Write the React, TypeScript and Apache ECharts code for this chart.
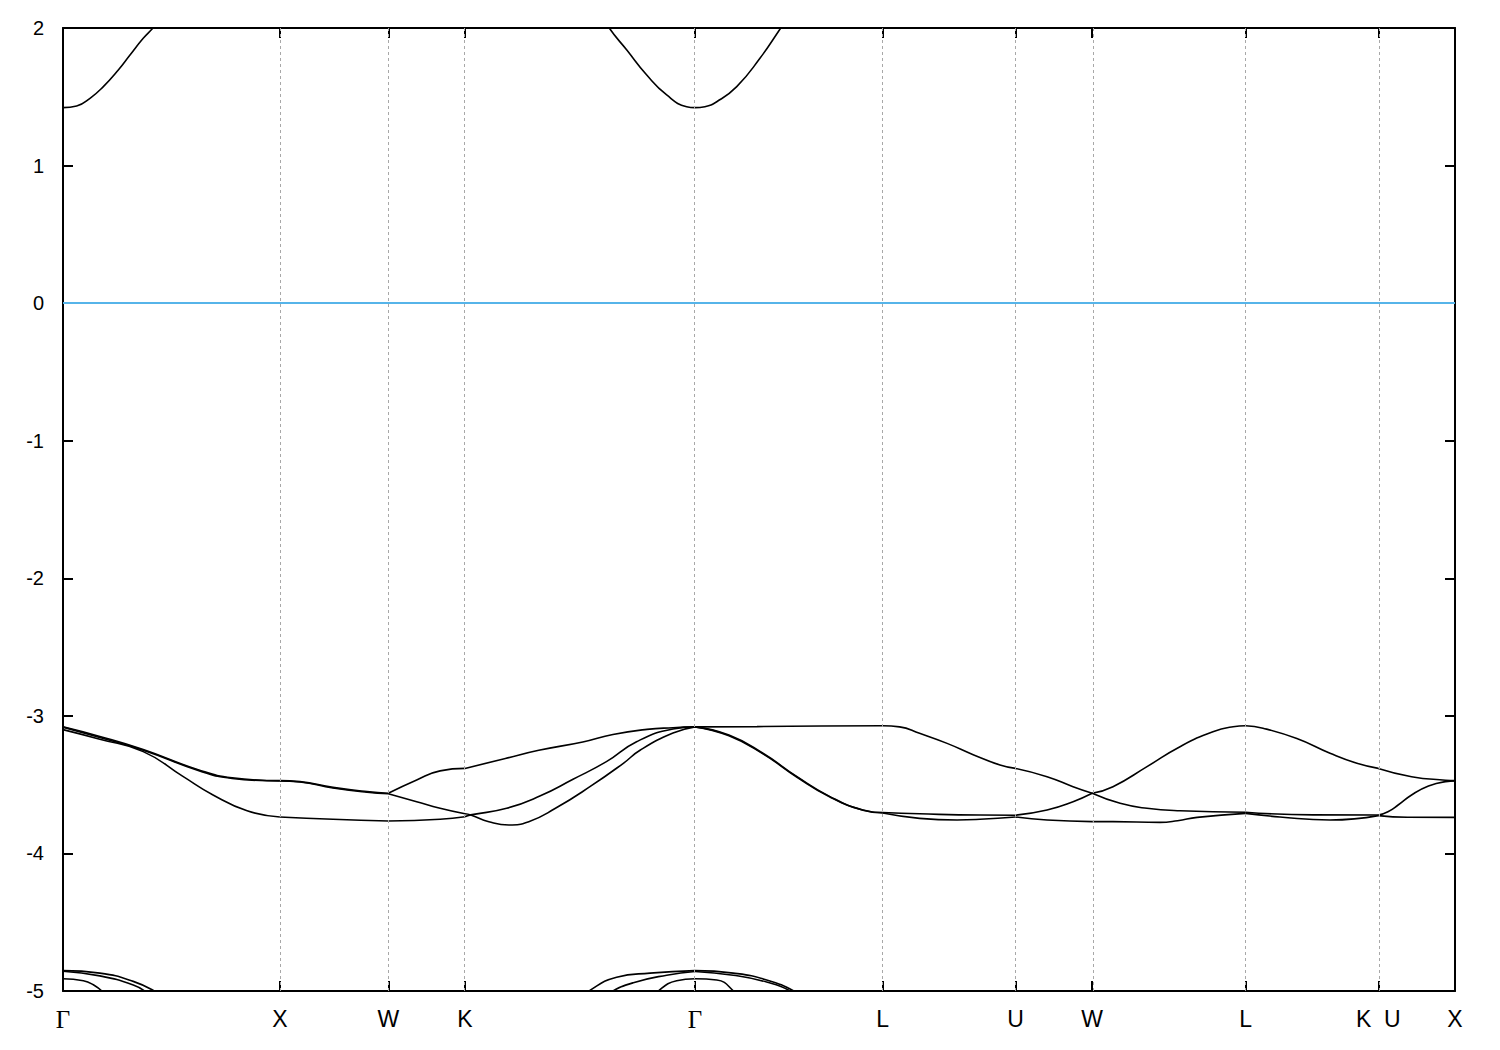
import React, { useEffect, useRef } from "react";
import * as echarts from "echarts";

// High-symmetry points along the k-path (units of 2π/a)
const kTicks = [0, 1, 1.5, 1.8536, 2.9142, 3.7802, 4.3926, 4.7462, 5.4533, 6.0657, 6.4193];
const kLabels = ["Γ", "X", "W", "K", "Γ", "L", "U", "W", "L", "K\u00a0\u00a0U", "X"];

// Energy axis ticks (eV)
const yTicks = [-5, -4, -3, -2, -1, 0, 1, 2];
const fermiLevel = 0;

// Valence bands near -3 eV
const bandTop = [
  [0, -3.08], [0.17, -3.15], [0.37, -3.245], [0.63, -3.395], [0.78, -3.45], [1, -3.471],
  [1.093, -3.478], [1.245, -3.52], [1.402, -3.551], [1.5, -3.563],
  [1.631, -3.466], [1.739, -3.4], [1.8536, -3.382],
  [2.04, -3.31], [2.194, -3.25], [2.397, -3.19], [2.536, -3.135], [2.693, -3.098], [2.813, -3.086], [2.9142, -3.08],
  [3.2, -3.078], [3.5, -3.074], [3.7802, -3.072],
  [3.858, -3.08], [3.95, -3.127], [4.077, -3.2], [4.2, -3.284], [4.321, -3.357], [4.3926, -3.382],
  [4.538, -3.442], [4.658, -3.515], [4.7462, -3.563],
  [4.842, -3.515], [4.999, -3.369], [5.151, -3.224], [5.303, -3.115], [5.396, -3.079], [5.4533, -3.072],
  [5.534, -3.09], [5.69, -3.165], [5.843, -3.272], [5.967, -3.345], [6.0657, -3.382],
  [6.219, -3.442], [6.376, -3.468], [6.4193, -3.471],
];

const bandMid = [
  [0, -3.082], [0.17, -3.158], [0.37, -3.25], [0.63, -3.4], [0.78, -3.455], [1, -3.474],
  [1.093, -3.481], [1.245, -3.524], [1.402, -3.555], [1.5, -3.566],
  [1.631, -3.624], [1.739, -3.672], [1.8536, -3.712],
  [1.88, -3.72], [1.964, -3.769], [2.056, -3.793], [2.148, -3.769], [2.271, -3.672], [2.43, -3.515], [2.584, -3.345], [2.661, -3.25], [2.813, -3.125], [2.9142, -3.08],
  [3.071, -3.14], [3.228, -3.272], [3.385, -3.442], [3.537, -3.587], [3.689, -3.684], [3.7802, -3.703],
  [3.95, -3.712], [4.229, -3.721], [4.3926, -3.722],
  [4.538, -3.684], [4.658, -3.624], [4.7462, -3.563],
  [4.875, -3.636], [4.999, -3.672], [5.151, -3.69], [5.4533, -3.701],
  [5.765, -3.72], [6.0657, -3.721],
  [6.11, -3.697], [6.157, -3.648], [6.219, -3.575], [6.297, -3.51], [6.376, -3.478], [6.4193, -3.473],
];

const bandLow = [
  [0, -3.1], [0.17, -3.17], [0.37, -3.26], [0.553, -3.44], [0.692, -3.575], [0.849, -3.69], [1, -3.735],
  [1.245, -3.752], [1.5, -3.764],
  [1.739, -3.752], [1.8536, -3.733],
  [1.88, -3.72], [2.046, -3.672], [2.199, -3.583], [2.352, -3.461], [2.506, -3.333], [2.645, -3.188], [2.813, -3.095], [2.9142, -3.08],
  [3.071, -3.145], [3.228, -3.276], [3.385, -3.446], [3.537, -3.59], [3.689, -3.686], [3.7802, -3.706],
  [3.95, -3.745], [4.123, -3.757], [4.229, -3.752], [4.3926, -3.735],
  [4.538, -3.757], [4.7462, -3.769],
  [4.842, -3.769], [5.059, -3.774], [5.14, -3.762], [5.23, -3.738], [5.4533, -3.709],
  [5.612, -3.735], [5.843, -3.757], [6.0657, -3.725],
  [6.2, -3.737], [6.4193, -3.738],
];

// Conduction band pieces (visible part below 2 eV)
const condGammaStart = [
  [0, 1.421], [0.063, 1.433], [0.1245, 1.489], [0.186, 1.574], [0.255, 1.695], [0.309, 1.804], [0.37, 1.925], [0.414, 1.998], [0.46, 2.08],
];
const condGammaMid = [
  [2.49, 2.09], [2.519, 2.0], [2.6, 1.84], [2.692, 1.658], [2.784, 1.513], [2.876, 1.428], [2.9142, 1.421],
  [2.96, 1.428], [3.015, 1.464], [3.107, 1.574], [3.214, 1.78], [3.31, 2.0], [3.34, 2.07],
];

// Deeper bands peeking in near -5 eV
const deep1Start = [[0, -4.852], [0.17, -4.87], [0.324, -4.93], [0.432, -5.01], [0.47, -5.06]];
const deep2Start = [[0, -4.856], [0.17, -4.89], [0.324, -4.956], [0.386, -5.01], [0.42, -5.06]];
const deep3Start = [[0, -4.911], [0.094, -4.925], [0.14, -4.955], [0.186, -5.01], [0.21, -5.06]];
const deep1Mid = [[2.38, -5.06], [2.415, -5.01], [2.553, -4.9], [2.707, -4.87], [2.9142, -4.852], [3.091, -4.87], [3.245, -4.92], [3.384, -5.01], [3.42, -5.06]];
const deep2Mid = [[2.49, -5.06], [2.523, -5.01], [2.63, -4.94], [2.784, -4.885], [2.9142, -4.858], [3.091, -4.885], [3.245, -4.935], [3.368, -5.01], [3.4, -5.06]];
const deep3Mid = [[2.72, -5.06], [2.738, -5.01], [2.83, -4.925], [2.9142, -4.911], [3.015, -4.92], [3.099, -5.01], [3.12, -5.06]];

const allBands = [
  bandTop, bandMid, bandLow,
  condGammaStart, condGammaMid,
  deep1Start, deep2Start, deep3Start, deep1Mid, deep2Mid, deep3Mid,
];

function segmentSeries(points: number[][]) {
  const out: any[] = [];
  for (let i = 0; i < kTicks.length - 1; i++) {
    const a = kTicks[i] - 1e-6;
    const b = kTicks[i + 1] + 1e-6;
    const seg = points.filter((p) => p[0] >= a && p[0] <= b);
    if (seg.length >= 2) {
      out.push({
        type: "line",
        data: seg,
        smooth: 0.5,
        showSymbol: false,
        symbol: "none",
        silent: true,
        clip: true,
        lineStyle: { color: "#000", width: 1.6 },
        z: 4,
      });
    }
  }
  return out;
}

export default function App() {
  const ref = useRef<HTMLDivElement>(null);

  useEffect(() => {
    if (!ref.current) return;
    const chart = echarts.init(ref.current, null, { renderer: "svg" });

    const labelFormatter = (v: number) => {
      const i = kTicks.findIndex((t) => Math.abs(t - v) < 1e-3);
      const s = i >= 0 ? kLabels[i] : "";
      return s === "Γ" ? "{g|Γ}" : s;
    };

    const xAxisBase = {
      type: "value",
      min: kTicks[0],
      max: kTicks[kTicks.length - 1],
      axisLine: { show: true, onZero: false, lineStyle: { color: "#000", width: 2 } },
      axisTick: { show: true, inside: true, length: 10, customValues: kTicks, lineStyle: { color: "#000", width: 2 } },
      splitLine: { show: false },
    };
    const yAxisBase = {
      type: "value",
      min: yTicks[0],
      max: yTicks[yTicks.length - 1],
      interval: 1,
      axisLine: { show: true, onZero: false, lineStyle: { color: "#000", width: 2 } },
      axisTick: { show: true, inside: true, length: 10, lineStyle: { color: "#000", width: 2 } },
      splitLine: { show: false },
    };

    const bandSeries = allBands.flatMap((b) => segmentSeries(b));

    const option: any = {
      animation: false,
      backgroundColor: "#fff",
      grid: { left: 63, right: 45, top: 28, bottom: 59, containLabel: false },
      xAxis: [
        {
          ...xAxisBase,
          position: "bottom",
          axisLabel: {
            show: true,
            customValues: kTicks,
            formatter: labelFormatter,
            color: "#000",
            fontSize: 23,
            fontFamily: "Liberation Sans, Arial, sans-serif",
            margin: 16,
            rich: {
              g: { fontFamily: "Liberation Serif, Times New Roman, serif", fontSize: 25, color: "#000" },
            },
          },
        },
        { ...xAxisBase, position: "top", axisLabel: { show: false } },
      ],
      yAxis: [
        {
          ...yAxisBase,
          position: "left",
          axisLabel: {
            show: true,
            color: "#000",
            fontSize: 20,
            fontFamily: "Liberation Sans, Arial, sans-serif",
            margin: 19,
          },
        },
        { ...yAxisBase, position: "right", axisLabel: { show: false } },
      ],
      series: [
        {
          type: "line",
          data: [],
          silent: true,
          z: 2,
          markLine: {
            silent: true,
            symbol: "none",
            label: { show: false },
            lineStyle: { color: "#a8a8a8", width: 1, type: [3, 3] },
            data: kTicks.slice(1, -1).map((k) => ({ xAxis: k })),
          },
        },
        {
          type: "line",
          data: [],
          silent: true,
          z: 3,
          markLine: {
            silent: true,
            symbol: "none",
            label: { show: false },
            lineStyle: { color: "#56B4E9", width: 2, type: "solid" },
            data: [{ yAxis: fermiLevel }],
          },
        },
        ...bandSeries,
      ],
    };

    chart.setOption(option);
    return () => chart.dispose();
  }, []);

  return (
    <div
      ref={ref}
      style={{ position: "absolute", left: 0, top: 0, width: 1500, height: 1050, background: "#fff" }}
    />
  );
}
